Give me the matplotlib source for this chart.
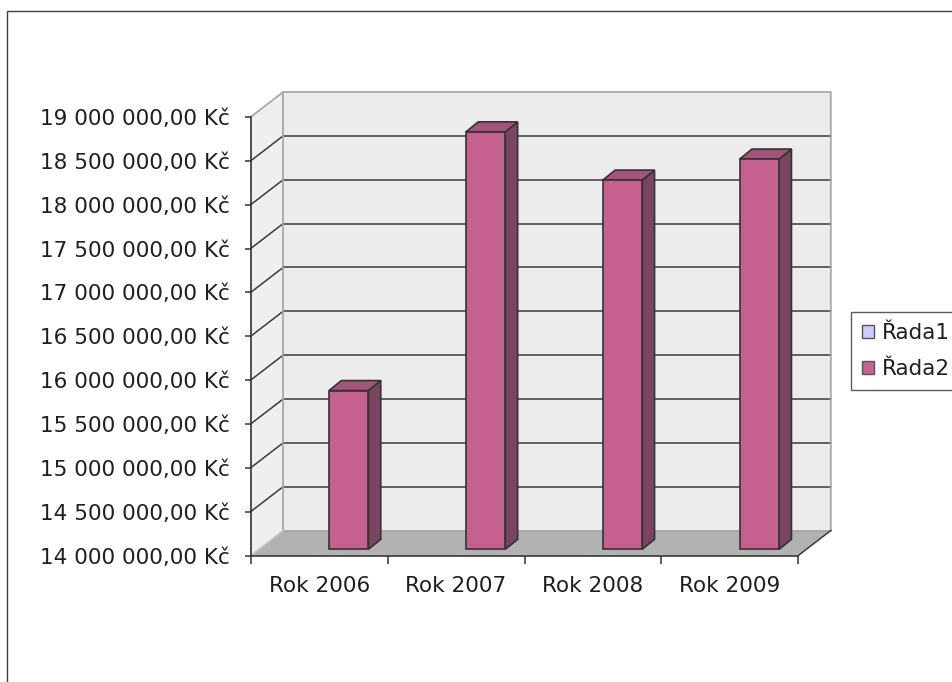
import matplotlib
matplotlib.use("Agg")
import matplotlib.pyplot as plt
from matplotlib.patches import Polygon, Rectangle, Patch
from matplotlib.ticker import FuncFormatter, FixedLocator

plt.rcParams['font.family'] = ['DejaVu Sans']

# data
years = ["Rok 2006", "Rok 2007", "Rok 2008", "Rok 2009"]
rada2 = [15810000, 18760000, 18210000, 18450000]
series_names = ["Řada1", "Řada2"]
y_ticks = [14000000 + 500000 * k for k in range(11)]

# colours
c_front = "#c6618f"
c_side = "#7a4561"
c_top = "#a3547b"
c_edge = "#333333"
c_wall = "#ececec"
c_floor = "#b2b2b2"
c_wall_edge = "#a8a8a8"
c_grid = "#3a3a3a"
c_text = "#1f1f1f"
fs = 15.5

fig = plt.figure(figsize=(9.53, 6.82), dpi=100)
ax = fig.add_axes([250.7 / 953, 126.5 / 682, 547.6 / 953, 438.5 / 682])
ax.set_xlim(-0.5, 3.5)
ax.set_ylim(14000000, 19000000)
ax.patch.set_visible(False)

# hloubka krabice v jednotkach dat
DX = 0.2374
DY = 285000
y0, y1 = 14000000, 19000000
x0, x1 = -0.5, 3.5

# zadni stena
ax.add_patch(Rectangle((x0 + DX, y0 + DY), x1 - x0, y1 - y0, fc=c_wall, ec="none",
                       zorder=0, clip_on=False))
# leva stena
ax.add_patch(Polygon([(x0, y0), (x0, y1), (x0 + DX, y1 + DY), (x0 + DX, y0 + DY)],
                     fc="#efefef", ec="none", zorder=0, clip_on=False))
# podlaha
ax.add_patch(Polygon([(x0, y0), (x1, y0), (x1 + DX, y0 + DY), (x0 + DX, y0 + DY)],
                     fc=c_floor, ec="none", zorder=1, clip_on=False))

# mrizka
for v in y_ticks[1:-1]:
    ax.plot([x0 + DX, x1 + DX], [v + DY, v + DY], color=c_grid, lw=1.1, zorder=0.5, clip_on=False)
    ax.plot([x0, x0 + DX], [v, v + DY], color=c_grid, lw=1.1, zorder=0.5, clip_on=False)

# hrany sten
ax.plot([x0, x0 + DX, x1 + DX, x1 + DX], [y1, y1 + DY, y1 + DY, y0 + DY],
        color=c_wall_edge, lw=1.3, zorder=0.6, clip_on=False)
ax.plot([x0 + DX, x0 + DX, x1 + DX], [y1 + DY, y0 + DY, y0 + DY],
        color=c_wall_edge, lw=1.3, zorder=1.2, clip_on=False)
ax.plot([x0, x0 + DX], [y0, y0 + DY], color="#c8c8c8", lw=1.1, zorder=1.2, clip_on=False)
ax.plot([x1, x1 + DX], [y0, y0 + DY], color=c_grid, lw=1.1, zorder=1.2, clip_on=False)

# sloupce
f0 = 0.248
bdx = 0.09
bdy = 114000
offset = 0.216
width = 0.288
base = y0 + f0 * DY
xs = [i + offset for i in range(len(years))]
tops = [v + f0 * DY for v in rada2]
ax.bar(xs, [t - base for t in tops], width=width, bottom=base, color=c_front,
       edgecolor=c_edge, linewidth=1.2, zorder=3, clip_on=False)
for x, t in zip(xs, tops):
    xl, xr = x - width / 2, x + width / 2
    ax.add_patch(Polygon([(xr, base), (xr, t), (xr + bdx, t + bdy), (xr + bdx, base + bdy)],
                         fc=c_side, ec=c_edge, lw=1.2, zorder=2.9, clip_on=False))
    ax.add_patch(Polygon([(xl, t), (xr, t), (xr + bdx, t + bdy), (xl + bdx, t + bdy)],
                         fc=c_top, ec=c_edge, lw=1.2, zorder=2.9, clip_on=False))

# osy
for s in ["top", "right"]:
    ax.spines[s].set_visible(False)
for s in ["left", "bottom"]:
    ax.spines[s].set_color(c_edge)
    ax.spines[s].set_linewidth(1.2)
    ax.spines[s].set_zorder(4)

ax.yaxis.set_major_locator(FixedLocator(y_ticks))
ax.yaxis.set_major_formatter(FuncFormatter(
    lambda v, p: f"{v:,.2f}".replace(",", " ").replace(".", ",") + " Kč"))
ax.tick_params(axis="y", length=4.5, width=1.1, color=c_edge, pad=10.6,
               labelsize=fs, labelcolor=c_text)

ax.xaxis.set_major_locator(FixedLocator([-0.5, 0.5, 1.5, 2.5, 3.5]))
ax.xaxis.set_major_formatter(FuncFormatter(lambda v, p: ""))
ax.set_xticks(range(len(years)), years, minor=True)
ax.tick_params(axis="x", which="major", length=5.5, width=1.1, color=c_edge)
ax.tick_params(axis="x", which="minor", length=0, pad=15, labelsize=fs, labelcolor=c_text)

# legenda
handles = [Patch(fc="#ccccff", ec="#555555", lw=1.0), Patch(fc=c_front, ec="#555555", lw=1.0)]
leg = fig.legend(handles, series_names, loc="upper left", bbox_to_anchor=(851 / 953, 1 - 312 / 682),
                 fontsize=fs, frameon=True, fancybox=False, borderaxespad=0, borderpad=0.5,
                 handlelength=0.55, handleheight=0.55, handletextpad=0.4, labelspacing=0.75)
leg.get_frame().set_edgecolor(c_edge)
leg.get_frame().set_linewidth(1.0)
for t in leg.get_texts():
    t.set_color(c_text)

# ramecek grafu
fig.add_artist(Rectangle((7 / 953, -0.1), 1.2, 1.1 - 11 / 682, transform=fig.transFigure,
                         fill=False, ec="#404040", lw=1.0))

fig.savefig("out.png", dpi=100)
